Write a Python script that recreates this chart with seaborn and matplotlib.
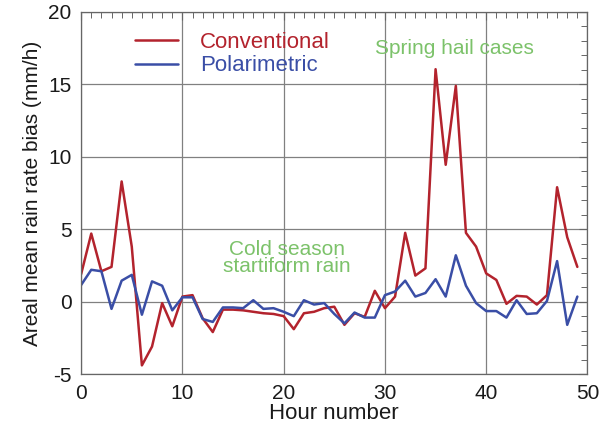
import matplotlib
matplotlib.use('Agg')
import matplotlib.pyplot as plt
from matplotlib.ticker import MultipleLocator
import seaborn as sns
import pandas as pd
import numpy as np

# values, one per hour
hours = list(range(50))
conventional = [1.9, 4.7, 2.1, 2.4, 8.3, 3.8, -4.4, -3.1, -0.1, -1.7,
                0.35, 0.45, -1.15, -2.1, -0.55, -0.55, -0.6, -0.7, -0.8, -0.85,
                -1.0, -1.9, -0.8, -0.7, -0.45, -0.35, -1.6, -0.8, -1.05, 0.75,
                -0.45, 0.35, 4.75, 1.8, 2.3, 16.05, 9.45, 14.9, 4.75, 3.8,
                1.95, 1.5, -0.15, 0.4, 0.35, -0.2, 0.45, 7.9, 4.45, 2.4]
polarimetric = [1.15, 2.2, 2.1, -0.5, 1.45, 1.85, -0.9, 1.4, 1.1, -0.6,
                0.3, 0.3, -1.2, -1.4, -0.4, -0.4, -0.45, 0.1, -0.5, -0.45,
                -0.7, -1.0, 0.1, -0.2, -0.1, -0.85, -1.5, -0.75, -1.1, -1.1,
                0.45, 0.7, 1.45, 0.35, 0.6, 1.55, 0.35, 3.2, 1.1, -0.1,
                -0.65, -0.65, -1.1, 0.1, -0.85, -0.8, 0.05, 2.8, -1.6, 0.35]
series_names = ['Conventional', 'Polarimetric']
series_colors = ['#b3232d', '#3a4ea6']
green = '#7cc26a'

df = pd.DataFrame({
    'Hour number': hours * 2,
    'bias': conventional + polarimetric,
    'series': [series_names[0]] * len(hours) + [series_names[1]] * len(hours),
})

sns.set_theme(style='white')
plt.rcParams['font.family'] = ['Liberation Sans', 'DejaVu Sans']
plt.rcParams['axes.unicode_minus'] = False

fig = plt.figure(figsize=(6.01, 4.28), dpi=100)
ax = fig.add_axes([0.135, 0.126, 0.8425, 0.846])

sns.lineplot(data=df, x='Hour number', y='bias', hue='series',
             palette=dict(zip(series_names, series_colors)),
             linewidth=1.8, ax=ax, legend=False)

ax.set_xlim(0, 50)
ax.set_ylim(-5, 20)
ax.xaxis.set_major_locator(MultipleLocator(10))
ax.xaxis.set_minor_locator(MultipleLocator(1))
ax.yaxis.set_major_locator(MultipleLocator(5))
ax.yaxis.set_minor_locator(MultipleLocator(1))
ax.tick_params(which='both', direction='in', top=True, right=True,
               color='#666666', labelsize=15, labelcolor='#1a1a1a', pad=7)
ax.tick_params(which='major', length=6, width=0.8)
ax.tick_params(which='minor', length=4, width=0.7)
ax.grid(True, which='major', color='#808080', linewidth=0.9)
for sp in ax.spines.values():
    sp.set_color('#666666')
    sp.set_linewidth(0.9)

ax.set_xlabel('Hour number', fontsize=16, color='#1a1a1a', labelpad=0)
ax.set_ylabel('Areal mean rain rate bias (mm/h)', fontsize=15, color='#1a1a1a', labelpad=4)

handles = [plt.Line2D([], [], color=c, linewidth=1.8) for c in series_colors]
leg = ax.legend(handles, series_names, loc='upper left', bbox_to_anchor=(0.085, 0.975),
                frameon=False, fontsize=16, handlelength=1.9, handletextpad=1.0,
                labelspacing=0.1, borderpad=0)
for txt, c in zip(leg.get_texts(), series_colors):
    txt.set_color(c)

ax.text(36.9, 17.5, 'Spring hail cases', color=green, fontsize=15,
        ha='center', va='center')
ax.text(20.3, 3.0, 'Cold season\nstartiform rain', color=green, fontsize=15,
        ha='center', va='center', linespacing=0.85)

fig.savefig('out.png', dpi=100)
